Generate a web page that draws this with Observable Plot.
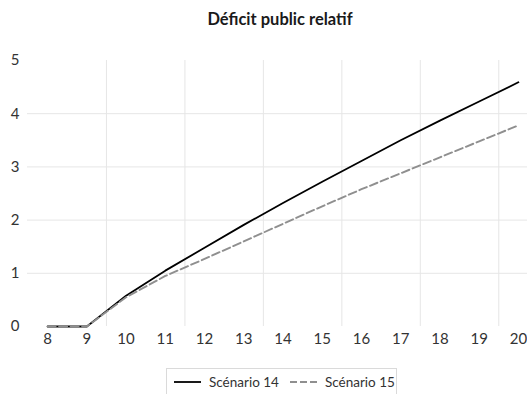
<!DOCTYPE html>
<html>
<head>
<meta charset="utf-8">
<script src="https://cdn.jsdelivr.net/npm/d3@7"></script>
<script src="https://cdn.jsdelivr.net/npm/@observablehq/plot@0.6"></script>
<style>
  html, body { margin: 0; padding: 0; background: #fff; overflow: hidden; }
  body { width: 527px; height: 394px; position: relative; font-family: Lato, "Open Sans", sans-serif; }
  #title { position: absolute; left: 0; top: 9px; width: 560px; text-align: center; font-weight: bold; font-size: 16.5px; color: #1a1a1a; }
  #chart { position: absolute; left: 0; top: 40px; }
  #legend { position: absolute; left: 166px; top: 368px; width: 231px; height: 30px; border: 1px solid #dadada; box-sizing: border-box; display: flex; align-items: center; font-size: 13.5px; color: #333; padding-left: 7px; padding-bottom: 2px; white-space: nowrap; }
  #legend .item { display: flex; align-items: center; margin-right: 11px; flex-shrink: 0; white-space: nowrap; }
  #legend svg { margin-right: 8px; flex-shrink: 0; }
</style>
</head>
<body>
<div id="title">Déficit public relatif</div>
<div id="chart"></div>
<div id="legend"></div>
<script>
const years = [8, 9, 10, 11, 12, 13, 14, 15, 16, 17, 18, 19, 20];
const scenario14 = [0, 0, 0.58, 1.05, 1.48, 1.91, 2.32, 2.72, 3.11, 3.50, 3.87, 4.23, 4.59];
const scenario15 = [0, 0, 0.55, 0.95, 1.27, 1.60, 1.93, 2.26, 2.58, 2.88, 3.18, 3.48, 3.78];
const seriesNames = ["Scénario 14", "Scénario 15"];
const yTicks = [0, 1, 2, 3, 4, 5];

const styles = {
  "Scénario 14": { stroke: "#000000", dash: null, width: 1.8 },
  "Scénario 15": { stroke: "#8f8f8f", dash: "8,3.5", width: 1.9 }
};

const rows = [];
years.forEach((y, i) => {
  rows.push({ year: y, value: scenario14[i], series: seriesNames[0] });
  rows.push({ year: y, value: scenario15[i], series: seriesNames[1] });
});

// category boundaries shown as vertical gridlines (Excel category axis, every 2nd)
const boundaries = years.filter((y, i) => i > 0 && i % 2 === 1).map(y => y + 0.5);

const chart = Plot.plot({
  width: 527,
  height: 320,
  marginTop: 20,
  marginBottom: 34,
  marginLeft: 27,
  marginRight: 0,
  style: { fontFamily: "Lato, 'Open Sans', sans-serif", fontSize: "15px", color: "#333" },
  x: { domain: [years[0] - 0.5, years[years.length - 1] + 0.5], range: [27.5, 537.5] },
  y: { domain: [0, 5] },
  marks: [
    Plot.ruleY(yTicks.filter(t => t > 0 && t < 5), { stroke: "#e6e6e6", strokeWidth: 1, strokeOpacity: 1 }),
    Plot.ruleX(boundaries, { y1: 0, y2: 5, stroke: "#e6e6e6", strokeWidth: 1, strokeOpacity: 1 }),
    Plot.axisY({ ticks: yTicks, tickSize: 0, tickPadding: 8, tickFormat: d => String(d), label: null, fontSize: 15 }),
    Plot.axisX({ ticks: years, tickSize: 0, tickPadding: 7, tickFormat: d => String(d), label: null, fontSize: 15 }),
    Plot.line(rows.filter(d => d.series === seriesNames[0]), { x: "year", y: "value", stroke: styles[seriesNames[0]].stroke, strokeWidth: styles[seriesNames[0]].width }),
    Plot.line(rows.filter(d => d.series === seriesNames[1]), { x: "year", y: "value", stroke: styles[seriesNames[1]].stroke, strokeWidth: styles[seriesNames[1]].width, strokeDasharray: styles[seriesNames[1]].dash })
  ]
});
document.getElementById("chart").appendChild(chart);

const legend = document.getElementById("legend");
seriesNames.forEach(name => {
  const s = styles[name];
  const item = document.createElement("div");
  item.className = "item";
  item.innerHTML = `<svg width="27" height="6"><line x1="0" y1="3" x2="27" y2="3" stroke="${s.stroke}" stroke-width="${s.width}" ${s.dash ? `stroke-dasharray="7,3"` : ""}/></svg><span>${name}</span>`;
  legend.appendChild(item);
});
</script>
</body>
</html>
